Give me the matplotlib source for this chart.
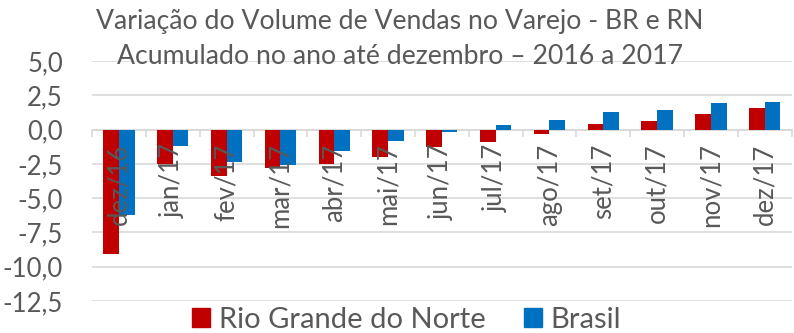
import numpy as np
import matplotlib.pyplot as plt
from matplotlib.ticker import FuncFormatter, FixedLocator
from matplotlib.patches import Patch

plt.rcParams['font.family'] = ['Lato', 'DejaVu Sans']

# Monthly accumulated retail sales variation (%)
meses = ['dez/16', 'jan/17', 'fev/17', 'mar/17', 'abr/17', 'mai/17', 'jun/17',
         'jul/17', 'ago/17', 'set/17', 'out/17', 'nov/17', 'dez/17']
rn = [-9.1, -2.5, -3.4, -2.8, -2.5, -2.0, -1.3, -0.9, -0.3, 0.4, 0.6, 1.1, 1.6]
brasil = [-6.2, -1.2, -2.4, -2.6, -1.6, -0.8, -0.2, 0.3, 0.7, 1.3, 1.4, 1.9, 2.0]

cor_rn = '#C00000'
cor_br = '#0070C0'
cinza = '#595959'
grade = '#D9D9D9'

fig = plt.figure(figsize=(7.94, 3.33), dpi=100)
ax = fig.add_axes([0.116, 0.096, 0.881, 0.721])

x = np.arange(len(meses))
w = 0.29
ax.bar(x - w / 2, rn, w, color=cor_rn, zorder=2)
ax.bar(x + w / 2, brasil, w, color=cor_br, zorder=2)

ax.set_xlim(-0.5, len(meses) - 0.5)
ax.set_ylim(-12.5, 5.0)
ax.set_yticks(np.arange(-12.5, 5.01, 2.5))
ax.yaxis.set_major_formatter(FuncFormatter(lambda v, p: f'{v:.1f}'.replace('.', ',')))
ax.tick_params(axis='y', length=0, labelsize=18.5, labelcolor=cinza, pad=21)
ax.grid(axis='y', color=grade, linewidth=1.2, zorder=0)

# horizontal axis sits on zero, with tick marks between the categories
for s in ['top', 'right', 'left']:
    ax.spines[s].set_visible(False)
ax.spines['bottom'].set_position(('data', 0))
ax.spines['bottom'].set_color(grade)
ax.spines['bottom'].set_linewidth(1.2)
ax.spines['bottom'].set_zorder(1)
ax.xaxis.set_major_locator(FixedLocator(np.arange(-0.5, len(meses), 1.0)))
ax.set_xticklabels([])
ax.tick_params(axis='x', length=5, width=1.2, color=grade, direction='out')

for i, m in enumerate(meses):
    ax.annotate(m, (i, 0), xytext=(0, -10), textcoords='offset points',
                rotation=90, ha='center', va='top', fontsize=18.5,
                color=cinza, zorder=5)

fig.text(0.504, 1 - 22 / 333, 'Variação do Volume de Vendas no Varejo - BR e RN',
         ha='center', va='center', fontsize=19.2, color=cinza)
fig.text(0.504, 1 - 56 / 333, 'Acumulado no ano até dezembro – 2016 a 2017',
         ha='center', va='center', fontsize=19.2, color=cinza)

handles = [Patch(color=cor_rn, label='Rio Grande do Norte'),
           Patch(color=cor_br, label='Brasil')]
fig.legend(handles=handles, loc='center', bbox_to_anchor=(0.512, 1 - 320 / 333),
           ncol=2, frameon=False, fontsize=21, labelcolor=cinza,
           handlelength=0.62, handleheight=0.62, handletextpad=0.3,
           columnspacing=1.3, borderaxespad=0, borderpad=0)

fig.savefig('out.png', dpi=100)
